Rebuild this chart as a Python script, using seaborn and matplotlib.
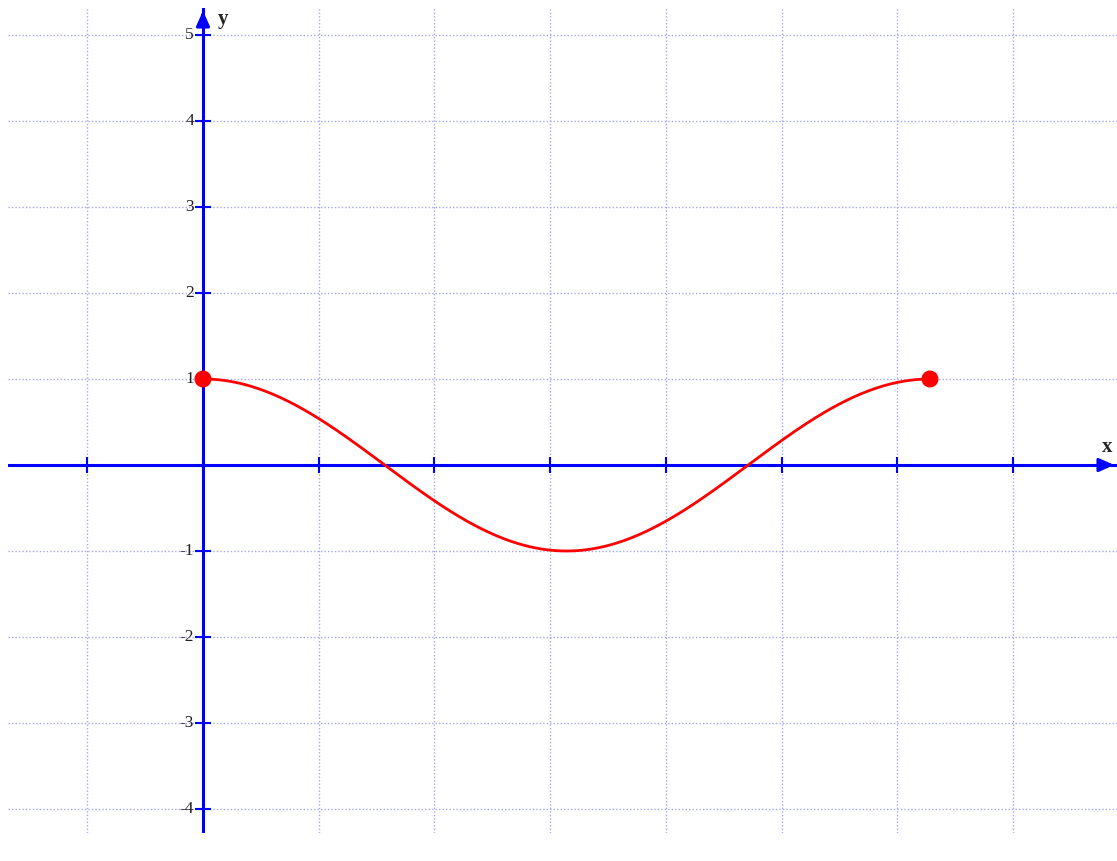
import numpy as np
import pandas as pd
import matplotlib
matplotlib.use("Agg")
import matplotlib.pyplot as plt
import seaborn as sns

# Function plotted: y = cos(x) on [0, 2*pi]
x_start, x_end = 0.0, 2 * np.pi
endpoint_x = [0.0, 2 * np.pi]
endpoint_y = [1.0, 1.0]
x_ticks = [-1, 0, 1, 2, 3, 4, 5, 6, 7]
y_ticks = [-4, -3, -2, -1, 1, 2, 3, 4, 5]
y_tick_labels = ["-4", "-3", "-2", "-1", "1", "2", "3", "4", "5"]

xs = np.linspace(x_start, x_end, 400)
curve = pd.DataFrame({"x": xs, "y": np.cos(xs)})

sns.set_style("white")
plt.rcParams["font.family"] = ["Liberation Serif", "DejaVu Serif"]

W, H = 1117, 861
fig = plt.figure(figsize=(W / 100, H / 100), dpi=100)
left_px, right_px, top_px, bottom_px = 8, 1117, 8, 833
ax = fig.add_axes([left_px / W, 1 - bottom_px / H,
                   (right_px - left_px) / W, (bottom_px - top_px) / H])

ux = 115.7  # pixels per x unit
uy = 86.0   # pixels per y unit
x0_px, y0_px = 203, 465
ax.set_xlim((left_px - x0_px) / ux, (right_px - x0_px) / ux)
ax.set_ylim(-(bottom_px - y0_px) / uy, (y0_px - top_px) / uy)

for s in ax.spines.values():
    s.set_visible(False)
ax.set_xticks([])
ax.set_yticks([])

grid_kw = dict(color="#a6a6f0", lw=1.0, ls=(0, (1, 1.5)), zorder=1)
for gx in x_ticks:
    ax.axvline(gx, **grid_kw)
for gy in y_ticks + [0]:
    ax.axhline(gy, **grid_kw)

axis_color = "#0000ff"
ax.axhline(0, color=axis_color, lw=2.2, zorder=2)
ax.axvline(0, color=axis_color, lw=2.2, zorder=2)

# arrow heads
xl, xr = ax.get_xlim()
yb, yt = ax.get_ylim()
ax.annotate("", xy=(xr, 0), xytext=(xr - 0.12, 0),
            arrowprops=dict(arrowstyle="-|>,head_length=0.9,head_width=0.4",
                            color=axis_color, lw=2.2), zorder=3)
ax.annotate("", xy=(0, yt), xytext=(0, yt - 0.15),
            arrowprops=dict(arrowstyle="-|>,head_length=0.9,head_width=0.4",
                            color=axis_color, lw=2.2), zorder=3)

# tick marks on the axes
ax.plot(x_ticks, [0] * len(x_ticks), ls="none", marker="|", ms=12,
        mew=1.5, color=axis_color, zorder=3)
ax.plot([0] * len(y_ticks), y_ticks, ls="none", marker="_", ms=12,
        mew=1.5, color=axis_color, zorder=3)

for v, lab in zip(y_ticks, y_tick_labels):
    ax.text(-9 / ux, v, lab, ha="right", va="center", fontsize=12.5,
            color="#222222", zorder=4)

ax.text(15 / ux, yt - 11 / uy, "y", ha="left", va="center", fontsize=15,
        fontweight="bold", zorder=4)
ax.text(xr - 10 / ux, 18 / uy, "x", ha="center", va="center", fontsize=15,
        fontweight="bold", zorder=4)

sns.lineplot(data=curve, x="x", y="y", ax=ax, color="#ff0000", lw=2.0,
             zorder=5, legend=False)
sns.scatterplot(x=endpoint_x, y=endpoint_y, ax=ax, color="#ff0000", s=150,
                edgecolor="none", zorder=6, legend=False)
ax.set_xlabel("")
ax.set_ylabel("")

fig.savefig("out.png", dpi=100)
